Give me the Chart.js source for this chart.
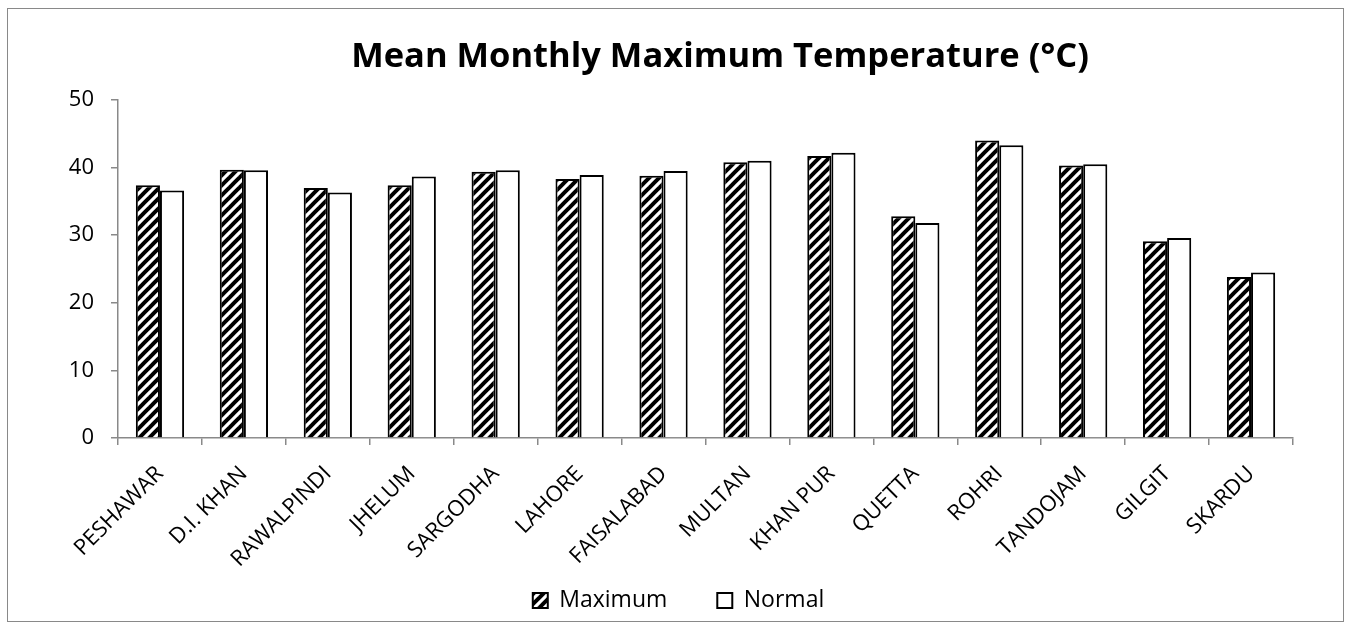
<!DOCTYPE html>
<html>
<head>
<meta charset="utf-8">
<script src="https://cdn.jsdelivr.net/npm/chart.js@4.4.1/dist/chart.umd.min.js"></script>
<style>
  html,body{margin:0;padding:0;background:#fff;}
  #frame{position:absolute;left:7px;top:8px;width:1335px;height:612px;border:1px solid #898989;}
  canvas{display:block;}
</style>
</head>
<body>
<div id="frame"><canvas id="chart" width="1335" height="612"></canvas></div>
<script>
const chartTitle = 'Mean Monthly Maximum Temperature (°C)';
const stations = ['PESHAWAR','D.I. KHAN','RAWALPINDI','JHELUM','SARGODHA','LAHORE','FAISALABAD','MULTAN','KHAN PUR','QUETTA','ROHRI','TANDOJAM','GILGIT','SKARDU'];
const maximumTemp = [37.4, 39.7, 37.0, 37.4, 39.4, 38.3, 38.8, 40.8, 41.7, 32.8, 44.0, 40.3, 29.1, 23.8];
const normalTemp = [36.6, 39.6, 36.3, 38.7, 39.6, 38.9, 39.5, 41.0, 42.2, 31.8, 43.3, 40.5, 29.6, 24.5];
const yTicks = [0, 10, 20, 30, 40, 50];

const axisGray = '#898989';
const family = '"Open Sans", Lato, sans-serif';
const tickFont = { family, size: 22 };
const legendFont = { family, size: 23 };

// wide upward diagonal hatch, like the office fill pattern
function hatch(){
  const c = document.createElement('canvas');
  c.width = 10; c.height = 10;
  const g = c.getContext('2d');
  g.fillStyle = '#fff'; g.fillRect(0,0,10,10);
  g.strokeStyle = '#000'; g.lineWidth = 4;
  for(let k=-1;k<=1;k++){
    g.beginPath(); g.moveTo(k*10-2, 12); g.lineTo(k*10+12, -2); g.stroke();
  }
  return g.createPattern(c, 'repeat');
}

const titlePlugin = {
  id: 'freeTitle',
  afterLayout(chart){
    // let the slanted station names run past the x box (they sit above the legend)
    chart.scales.x.bottom += 45;
    // legend centring counts the trailing gap, nudge it back
    const lg = chart.legend;
    lg.left += 28; lg.right += 28;
    lg.top += 4; lg.bottom += 4;
  },
  afterDraw(chart){
    const ctx = chart.ctx;
    ctx.save();
    ctx.font = 'bold 34.5px ' + family;
    ctx.fillStyle = '#000';
    ctx.textAlign = 'center';
    ctx.textBaseline = 'alphabetic';
    ctx.fillText(chartTitle, 712, 58);
    ctx.restore();
  }
};

new Chart(document.getElementById('chart'), {
  type: 'bar',
  data: {
    labels: stations,
    datasets: [
      { label: 'Maximum', data: maximumTemp, backgroundColor: hatch(), borderColor: '#000', borderWidth: 2 },
      { label: 'Normal', data: normalTemp, backgroundColor: '#fff', borderColor: '#000', borderWidth: 2 }
    ]
  },
  plugins: [titlePlugin],
  options: {
    responsive: false,
    animation: false,
    categoryPercentage: 0.575,
    barPercentage: 1,
    layout: { padding: { top: 91, right: 50, bottom: 3, left: 0 } },
    scales: {
      x: {
        grid: { drawOnChartArea: false, color: axisGray, tickLength: 7, lineWidth: 1.5 },
        border: { color: axisGray, width: 1.5 },
        ticks: { font: tickFont, color: '#000', minRotation: 45, maxRotation: 45, autoSkip: false, padding: 16 },
        afterFit(scale){ scale.height = 97; }
      },
      y: {
        min: 0, max: 50,
        afterBuildTicks(axis){ axis.ticks = yTicks.map(v => ({ value: v })); },
        grid: { drawOnChartArea: false, color: axisGray, tickLength: 7, lineWidth: 1.5 },
        border: { color: axisGray, width: 1.5 },
        ticks: { font: tickFont, color: '#000', padding: 17 },
        afterFit(scale){ scale.width = 110; }
      }
    },
    plugins: {
      legend: {
        position: 'bottom',
        labels: { font: legendFont, color: '#000', boxWidth: 15, boxHeight: 15, padding: 50 }
      },
      tooltip: { enabled: false }
    }
  }
});
</script>
</body>
</html>
